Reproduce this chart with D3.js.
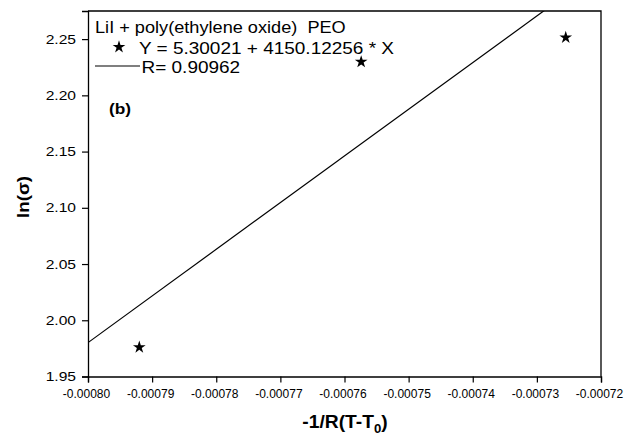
<!DOCTYPE html>
<html>
<head>
<meta charset="utf-8">
<script src="https://cdn.jsdelivr.net/npm/d3@7"></script>
<style>
  body { margin: 0; background: #fff; }
  text { font-family: "Liberation Sans", Arial, sans-serif; fill: #000; white-space: pre; }
</style>
</head>
<body>
<div id="chart"></div>
<script>
// measured points (ln sigma vs -1/R(T-T0))
const xVals = [-0.000792, -0.0007574, -0.0007255];
const yVals = [1.976, 2.2298, 2.2514];
// linear fit from the legend
const fitIntercept = 5.30021;
const fitSlope = 4150.12256;
const xTicks = [-0.0008, -0.00079, -0.00078, -0.00077, -0.00076, -0.00075, -0.00074, -0.00073, -0.00072];
const yTicks = [1.95, 2.00, 2.05, 2.10, 2.15, 2.20, 2.25];
const legendLines = ['LiI + poly(ethylene oxide)  PEO', 'Y = 5.30021 + 4150.12256 * X', 'R= 0.90962'];

const width = 640, height = 437;
const margin = {top: 11, right: 39, bottom: 60.5, left: 88};
const w = width - margin.left - margin.right;
const h = height - margin.top - margin.bottom;

const svg = d3.select('#chart').append('svg')
  .attr('width', width)
  .attr('height', height);

const g = svg.append('g')
  .attr('transform', `translate(${margin.left}, ${margin.top})`);

const x = d3.scaleLinear().domain([-0.0008, -0.00072]).range([0, w]);
const y = d3.scaleLinear().domain([1.95, 2.275]).range([h, 0]);

// source picture has wide-ish glyphs, so stretch text horizontally
function stretch(sel, k) {
  sel.each(function() {
    const len = this.getComputedTextLength();
    this.setAttribute('textLength', len * k);
    this.setAttribute('lengthAdjust', 'spacingAndGlyphs');
  });
}

g.append('clipPath').attr('id', 'plot-clip')
  .append('rect').attr('width', w).attr('height', h);

// frame top + right
g.append('path')
  .attr('d', `M0,0 H${w} V${h}`)
  .attr('fill', 'none')
  .attr('stroke', '#000')
  .attr('stroke-width', 1.3);

const xAxis = g.append('g')
  .attr('transform', `translate(0, ${h})`)
  .call(d3.axisBottom(x).tickValues(xTicks).tickSize(6).tickPadding(7).tickFormat(d => d.toFixed(5)));
const yAxis = g.append('g')
  .call(d3.axisLeft(y).tickValues(yTicks).tickSize(6).tickPadding(6).tickFormat(d => d.toFixed(2)));

[xAxis, yAxis].forEach(a => {
  a.select('.domain').attr('stroke', '#000').attr('stroke-width', 1.3);
  a.selectAll('.tick line').attr('stroke', '#000').attr('stroke-width', 1.2);
  a.selectAll('.tick text').attr('font-family', '"Liberation Sans", Arial, sans-serif').attr('fill', '#000');
});
xAxis.selectAll('.tick text').attr('font-size', 12).attr('dx', -2);
yAxis.selectAll('.tick text').attr('font-size', 13);
stretch(yAxis.selectAll('.tick text'), 1.2);

// fit line, clipped to plot
const fitX = x.domain();
g.append('line')
  .attr('clip-path', 'url(#plot-clip)')
  .attr('x1', x(fitX[0])).attr('y1', y(fitIntercept + fitSlope * fitX[0]))
  .attr('x2', x(fitX[1])).attr('y2', y(fitIntercept + fitSlope * fitX[1]))
  .attr('stroke', '#000')
  .attr('stroke-width', 1.2);

const star = d3.symbol().type(d3.symbolStar).size(50);
g.selectAll('path.pt')
  .data(xVals.map((d, i) => [d, yVals[i]]))
  .join('path')
  .attr('class', 'pt')
  .attr('d', star)
  .attr('transform', d => `translate(${x(d[0])}, ${y(d[1])})`)
  .attr('fill', '#000');

// legend
const lg = svg.append('g');
const title = lg.append('text').attr('x', 95).attr('y', 33).attr('font-size', 16.5).text(legendLines[0]);
lg.append('path').attr('d', star).attr('transform', 'translate(119, 47)').attr('fill', '#000');
const rows = lg.append('g');
rows.append('text').attr('x', 139).attr('y', 53.5).attr('font-size', 16.5).text(legendLines[1]);
lg.append('line').attr('x1', 95).attr('x2', 140).attr('y1', 66).attr('y2', 66)
  .attr('stroke', '#000').attr('stroke-width', 1.2);
rows.append('text').attr('x', 141.5).attr('y', 72.5).attr('font-size', 16.5).text(legendLines[2]);
stretch(title, 1.1);
stretch(rows.selectAll('text'), 1.15);

const lab = svg.append('text')
  .attr('x', 109).attr('y', 114)
  .attr('font-size', 15).attr('font-weight', 'bold')
  .text('(b)');
stretch(lab, 1.15);

// axis titles
const yt = svg.append('text')
  .attr('transform', 'translate(29, 197) rotate(-90)')
  .attr('text-anchor', 'middle')
  .attr('font-size', 17).attr('font-weight', 'bold')
  .text('ln(σ)');
stretch(yt, 1.1);

const xt = svg.append('text')
  .attr('x', 345).attr('y', 428)
  .attr('text-anchor', 'middle')
  .attr('font-size', 17.5).attr('font-weight', 'bold');
xt.append('tspan').text('-1/R(T-T');
xt.append('tspan').attr('font-size', 12).attr('dy', 5).text('0');
xt.append('tspan').attr('dy', -5).text(')');
stretch(xt, 1.1);
</script>
</body>
</html>
